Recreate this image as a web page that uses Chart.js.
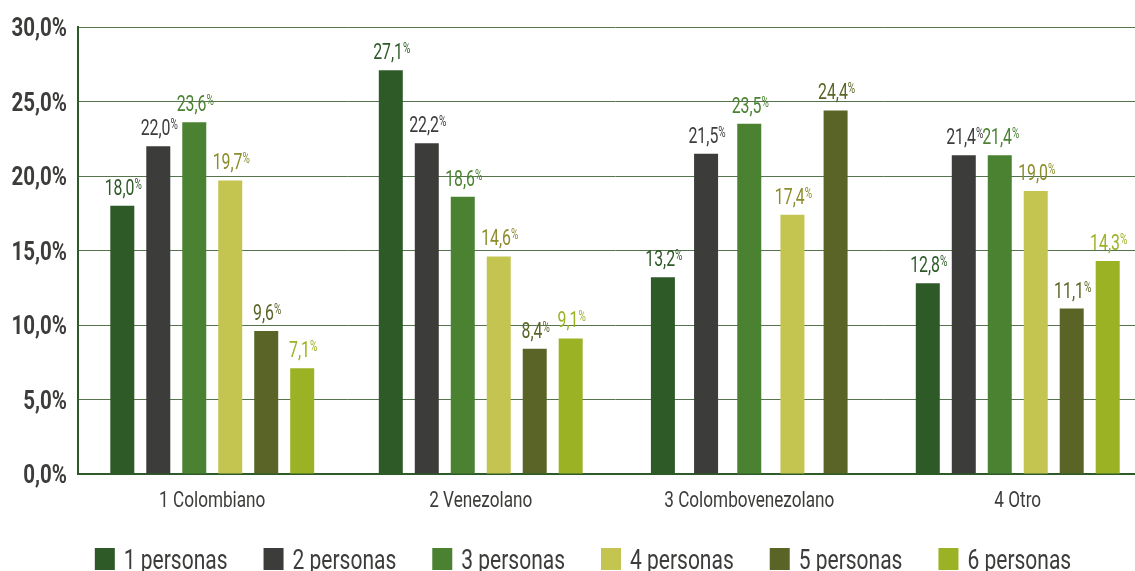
<!DOCTYPE html>
<html>
<head>
<meta charset="utf-8">
<script src="https://cdn.jsdelivr.net/npm/chart.js@4"></script>
<style>
  html, body { margin: 0; padding: 0; background: #fff; overflow: hidden; }
  #wrap { width: 1152px; height: 580px; }
</style>
</head>
<body>
<div id="wrap"><canvas id="myChart" width="1152" height="580"></canvas></div>
<script>
const FONT = "Roboto, 'DejaVu Sans', sans-serif";

const categories = ["1 Colombiano", "2 Venezolano", "3 Colombovenezolano", "4 Otro"];
const seriesNames = ["1 personas", "2 personas", "3 personas", "4 personas", "5 personas", "6 personas"];

const p1 = [18.0, 27.1, 13.2, 12.8];
const p2 = [22.0, 22.2, 21.5, 21.4];
const p3 = [23.6, 18.6, 23.5, 21.4];
const p4 = [19.7, 14.6, 17.4, 19.0];
const p5 = [9.6, 8.4, 24.4, 11.1];
const p6 = [7.1, 9.1, null, 14.3];

const barColors = ["#2e5a28", "#3c3c3a", "#4a8232", "#c3c550", "#596426", "#9bb224"];
const labelColors = ["#2e5a28", "#3c3c3a", "#4a8232", "#8c8c2c", "#596426", "#9bb224"];

const yTicks = [0, 5, 10, 15, 20, 25, 30];

const TEXT = "#3c3c3a";
const fmt = v => v.toFixed(1).replace(".", ",");

// the text face is a narrow one, so every string is drawn squeezed sideways
function narrowText(ctx, str, x, y, font, color, align, sx) {
  ctx.save();
  ctx.translate(x, y);
  ctx.scale(sx, 1);
  ctx.font = font;
  ctx.fillStyle = color;
  ctx.textAlign = align;
  ctx.textBaseline = "alphabetic";
  ctx.fillText(str, 0, 0);
  ctx.restore();
}

function narrowWidth(ctx, str, font, sx) {
  ctx.save();
  ctx.font = font;
  const w = ctx.measureText(str).width * sx;
  ctx.restore();
  return w;
}

// value labels, axis labels and legend
const textLayer = {
  id: "textLayer",
  afterDraw(chart) {
    const ctx = chart.ctx;
    const xs = chart.scales.x;
    const ys = chart.scales.y;

    // bar values: "18,0" with a small raised "%"
    const numFont = "22px " + FONT;
    const pctFont = "14px " + FONT;
    chart.data.datasets.forEach((ds, di) => {
      const meta = chart.getDatasetMeta(di);
      meta.data.forEach((bar, i) => {
        const v = ds.data[i];
        if (v === null || v === undefined) return;
        const num = fmt(v);
        const w1 = narrowWidth(ctx, num, numFont, 0.72);
        const w2 = narrowWidth(ctx, "%", pctFont, 0.72);
        const x0 = bar.x - (w1 + w2) / 2 + 1;
        const yb = bar.y - 11;
        narrowText(ctx, num, x0, yb, numFont, labelColors[di], "left", 0.72);
        narrowText(ctx, "%", x0 + w1, yb - 6, pctFont, labelColors[di], "left", 0.72);
      });
    });

    // y axis ticks
    yTicks.forEach(v => {
      narrowText(ctx, fmt(v) + "%", xs.left - 11, ys.getPixelForValue(v) + 9,
        "bold 25px " + FONT, TEXT, "right", 0.82);
    });

    // category names
    categories.forEach((c, i) => {
      narrowText(ctx, c, xs.getPixelForValue(i), ys.bottom + 33,
        "22px " + FONT, TEXT, "center", 0.78);
    });

    // legend row
    const legFont = "28px " + FONT;
    const box = 20, boxH = 22, gapText = 9, gapItem = 36;
    const widths = seriesNames.map(s => narrowWidth(ctx, s, legFont, 0.75));
    const total = widths.reduce((a, w) => a + box + gapText + w, 0) + gapItem * (seriesNames.length - 1);
    let x = 583 - total / 2;
    const yTop = 548;
    seriesNames.forEach((s, i) => {
      ctx.fillStyle = barColors[i];
      ctx.fillRect(x, yTop, box, boxH);
      narrowText(ctx, s, x + box + gapText, yTop + 21, legFont, TEXT, "left", 0.75);
      x += box + gapText + widths[i] + gapItem;
    });
  }
};

const datasets = [p1, p2, p3, p4, p5, p6].map((d, i) => ({
  label: seriesNames[i],
  data: d,
  backgroundColor: barColors[i],
  borderWidth: 0,
  categoryPercentage: 0.804,
  barPercentage: 0.667,
  maxBarThickness: 24
}));

const config = {
  type: "bar",
  data: { labels: categories, datasets: datasets },
  options: {
    responsive: false,
    animation: false,
    skipNull: true,
    layout: { padding: { top: 27, left: 78, right: 0, bottom: 106 } },
    plugins: {
      legend: { display: false },
      tooltip: { enabled: false }
    },
    scales: {
      x: {
        grid: { display: false, drawTicks: false },
        border: { display: true, color: "#2e5a28", width: 2 },
        ticks: { display: false }
      },
      y: {
        min: 0,
        max: 30,
        afterBuildTicks: axis => { axis.ticks = yTicks.map(v => ({ value: v })); },
        grid: { color: "#56744c", lineWidth: 1, drawTicks: false },
        border: { display: true, color: "#2e5a28", width: 2 },
        ticks: { display: false }
      }
    }
  },
  plugins: [textLayer]
};

const ctx = document.getElementById("myChart").getContext("2d");
const myChart = new Chart(ctx, config);
</script>
</body>
</html>
